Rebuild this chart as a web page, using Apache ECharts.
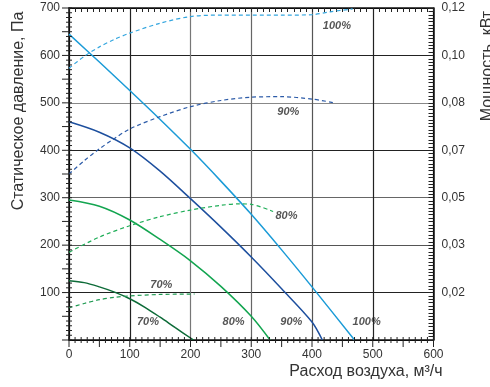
<!DOCTYPE html>
<html>
<head>
<meta charset="utf-8">
<script src="https://cdn.jsdelivr.net/npm/echarts@6/dist/echarts.min.js"></script>
<style>
  html, body { margin: 0; padding: 0; background: #fff; }
  #chart { width: 490px; height: 387px; }
</style>
</head>
<body>
<div id="chart"></div>
<script>
// Flow values (m3/h) and static pressure (Pa) per speed setting
const flow100 = [0, 50, 100, 150, 200, 250, 300, 350, 400, 470];
const press100 = [645, 586, 526, 465, 402, 335, 265, 190, 112, 0];
const flow90 = [0, 50, 100, 150, 200, 250, 300, 350, 400, 417];
const press90 = [460, 438, 405, 356, 298, 238, 175, 108, 38, 0];
const flow80 = [0, 50, 100, 150, 200, 250, 300, 331];
const press80 = [295, 282, 253, 212, 167, 113, 50, 0];
const flow70 = [0, 25, 50, 75, 100, 125, 150, 175, 205];
const press70 = [125, 121, 112, 101, 87, 69, 48, 26, 0];

// Power curves (drawn on the pressure scale, right labels in kW)
const pflow100 = [0, 25, 50, 75, 100, 150, 200, 250, 300, 350, 400, 430, 467];
const power100 = [573, 598, 618, 634, 647, 668, 682, 685, 685, 685, 686, 692, 698];
const pflow90 = [0, 25, 50, 75, 100, 150, 200, 250, 300, 350, 400, 437];
const power90 = [350, 378, 403, 425, 445, 471, 492, 505, 512, 513, 508, 500];
const pflow80 = [0, 50, 100, 150, 200, 250, 280, 300, 336];
const power80 = [185, 217, 241, 260, 274, 284, 287, 286, 271];
const pflow70 = [0, 25, 50, 75, 100, 150, 207];
const power70 = [68, 77, 85, 90, 93, 96, 97];

const xTicks = [0, 100, 200, 300, 400, 500, 600];
const rightLabels = ['', '0,02', '0,03', '0,05', '0,07', '0,08', '0,10', '0,12'];

// curve annotations: [flow, pressure, text]
const notes = [
  [441, 662, '100%'],
  [361, 480, '90%'],
  [358, 261, '80%'],
  [152, 116, '70%'],
  [130, 37, '70%'],
  [271, 37, '80%'],
  [366, 37, '90%'],
  [490, 37, '100%']
];

// small scale marks every 10 units on the bottom and left axes
const xSmallTicks = Array.from({ length: 61 }, (_, i) => i * 10);
const ySmallTicks = Array.from({ length: 71 }, (_, i) => i * 10);

const pairs = (xs, ys) => xs.map((x, i) => [x, ys[i]]);

const font = 'Liberation Sans, Arial, sans-serif';
const txt = '#333';
const tickColor = '#222';

const chart = echarts.init(document.getElementById('chart'));

const frameLine = { show: true, onZero: false, lineStyle: { color: '#111', width: 1.5 } };

const solid = (name, data, color) => ({
  name, type: 'line', data, smooth: 0.3, symbol: 'none',
  lineStyle: { color, width: 1.5 }, z: 3
});
const dashed = (name, data, color) => ({
  name, type: 'line', data, smooth: 0.3, symbol: 'none',
  lineStyle: { color, width: 1.2, type: [4, 3] }, z: 3
});

const option = {
  backgroundColor: '#fff',
  animation: false,
  textStyle: { fontFamily: font },
  grid: { left: 69, right: 56.5, top: 8, bottom: 47 },
  xAxis: [
    {
      type: 'value', min: 0, max: 600, interval: 100, position: 'bottom',
      axisLine: frameLine,
      axisTick: { show: false },
      axisLabel: {
        color: txt, fontSize: 12, margin: 9,
        formatter: (v) => (xTicks.includes(v) ? String(v) : '')
      },
      splitLine: {
        show: true,
        lineStyle: { color: ['#000', '#222', '#777', '#666', '#555', '#222', '#000'], width: 1.2 }
      }
    },
    {
      type: 'value', min: 0, max: 600, interval: 100, position: 'top',
      axisLine: frameLine, axisLabel: { show: false }, splitLine: { show: false },
      axisTick: { show: true, inside: true, length: 4, lineStyle: { color: tickColor } },
      minorTick: { show: true, splitNumber: 10, length: 4, lineStyle: { color: tickColor } }
    }
  ],
  yAxis: [
    {
      type: 'value', min: 0, max: 700, interval: 100, position: 'left',
      axisLine: frameLine,
      axisTick: { show: false },
      axisLabel: {
        color: txt, fontSize: 12, margin: 9,
        formatter: (v) => (v === 0 ? '' : String(v))
      },
      splitLine: {
        show: true,
        lineStyle: { color: ['#000', '#222', '#555', '#666', '#222', '#888', '#222', '#000'], width: 1.2 }
      }
    },
    {
      type: 'value', min: 0, max: 700, interval: 100, position: 'right',
      axisLine: frameLine, splitLine: { show: false },
      axisTick: { show: true, inside: true, length: 5, lineStyle: { color: tickColor } },
      minorTick: { show: true, splitNumber: 14, length: 5, lineStyle: { color: tickColor } },
      axisLabel: {
        show: true, color: txt, fontSize: 12, margin: 8,
        formatter: (v) => rightLabels[Math.round(v / 100)]
      }
    }
  ],
  graphic: [
    {
      type: 'text', x: 19, y: 111, rotation: Math.PI / 2,
      style: {
        text: 'Статическое давление, Па', fill: txt, font: '16px ' + font,
        textAlign: 'center', textVerticalAlign: 'middle'
      }
    },
    {
      type: 'text', x: 488, y: 66, rotation: Math.PI / 2,
      style: {
        text: 'Мощность, кВт', fill: txt, font: '16px ' + font,
        textAlign: 'center', textVerticalAlign: 'middle'
      }
    },
    {
      type: 'text', x: 366, y: 372,
      style: {
        text: 'Расход воздуха, м³/ч', fill: txt, font: '16px ' + font,
        textAlign: 'center', textVerticalAlign: 'middle'
      }
    }
  ],
  series: [
    solid('100%', pairs(flow100, press100), '#1b9bd7'),
    solid('90%', pairs(flow90, press90), '#1d4f9e'),
    solid('80%', pairs(flow80, press80), '#13a550'),
    solid('70%', pairs(flow70, press70), '#0d6b38'),
    dashed('P100%', pairs(pflow100, power100), '#34a6df'),
    dashed('P90%', pairs(pflow90, power90), '#2c5ba8'),
    dashed('P80%', pairs(pflow80, power80), '#1fae58'),
    dashed('P70%', pairs(pflow70, power70), '#1f9a52'),
    {
      type: 'scatter', data: notes, symbolSize: 0, z: 4, silent: true,
      label: {
        show: true, position: 'inside', formatter: (p) => p.data[2],
        color: '#2a2a2a', fontSize: 11, fontWeight: 'bold', fontStyle: 'italic',
        textBorderWidth: 0
      }
    },
    {
      // crossing marks on the bottom axis, longer below at every 50
      type: 'custom', silent: true, z: 5, clip: false,
      data: xSmallTicks.map((v) => [v, 0]),
      renderItem: (params, api) => {
        const v = api.value(0);
        const p = api.coord([v, 0]);
        const below = v % 50 === 0 ? 7 : 3;
        return {
          type: 'line',
          shape: { x1: p[0], y1: p[1] - 3, x2: p[0], y2: p[1] + below },
          style: { stroke: tickColor, lineWidth: 1 }
        };
      }
    },
    {
      // crossing marks on the left axis, longer outside at every 50
      type: 'custom', silent: true, z: 5, clip: false,
      data: ySmallTicks.map((v) => [0, v]),
      renderItem: (params, api) => {
        const v = api.value(1);
        const p = api.coord([0, v]);
        const outside = v % 50 === 0 ? 7 : 3;
        return {
          type: 'line',
          shape: { x1: p[0] - outside, y1: p[1], x2: p[0] + 3, y2: p[1] },
          style: { stroke: tickColor, lineWidth: 1 }
        };
      }
    }
  ]
};

chart.setOption(option);
</script>
</body>
</html>
